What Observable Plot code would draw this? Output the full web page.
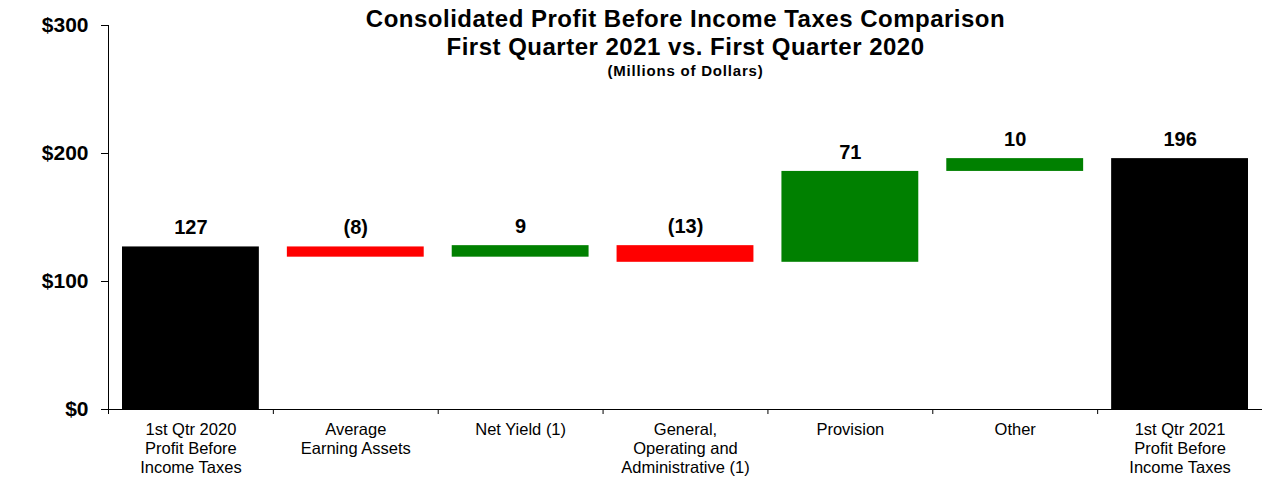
<!DOCTYPE html>
<html>
<head>
<meta charset="utf-8">
<script src="https://cdn.jsdelivr.net/npm/d3@7"></script>
<script src="https://cdn.jsdelivr.net/npm/@observablehq/plot@0.6"></script>
<style>
  html, body { margin: 0; padding: 0; background: #fff; }
  #chart svg { display: block; }
  .title-text text { letter-spacing: 0.5px; }
  .subtitle-text text { letter-spacing: 0.8px; }
</style>
</head>
<body>
<div id="chart"></div>
<script>
const categories = [
  "1st Qtr 2020\nProfit Before\nIncome Taxes",
  "Average\nEarning Assets",
  "Net Yield (1)",
  "General,\nOperating and\nAdministrative (1)",
  "Provision",
  "Other",
  "1st Qtr 2021\nProfit Before\nIncome Taxes"
];
const values = [127, -8, 9, -13, 71, 10, 196];
const valueLabels = ["127", "(8)", "9", "(13)", "71", "10", "196"];
const kinds = ["total", "delta", "delta", "delta", "delta", "delta", "total"];
const yTicks = [0, 100, 200, 300];
const titleLines = [
  "Consolidated Profit Before Income Taxes Comparison",
  "First Quarter 2021 vs. First Quarter 2020"
];
const subtitle = "(Millions of Dollars)";

let running = 0;
const rows = categories.map((c, i) => {
  let lo, hi;
  if (kinds[i] === "total") {
    lo = 0; hi = values[i]; running = values[i];
  } else {
    const start = running;
    running = start + values[i];
    lo = Math.min(start, running); hi = Math.max(start, running);
  }
  return {
    i, category: c, label: valueLabels[i], lo, hi,
    color: kinds[i] === "total" ? "#000000" : (values[i] < 0 ? "#ff0000" : "#008000")
  };
});

const font = "'Liberation Sans', Arial, Helvetica, sans-serif";

const chart = Plot.plot({
  width: 1262,
  height: 493,
  marginLeft: 108,
  marginRight: 0,
  marginTop: 25,
  marginBottom: 84,
  style: { fontFamily: font, background: "#fff", color: "#000", overflow: "visible" },
  x: { type: "linear", domain: [0, categories.length], axis: null },
  y: { domain: [0, 300], axis: null },
  marks: [
    Plot.rectY(rows, {
      x1: d => d.i, x2: d => d.i + 1, y1: "lo", y2: "hi",
      fill: "color", insetLeft: 14, insetRight: 14
    }),
    Plot.ruleX([0], { stroke: "#000", strokeWidth: 1 }),
    Plot.ruleY([0], { stroke: "#000", strokeWidth: 1 }),
    Plot.axisY({
      ticks: yTicks,
      tickFormat: d => "$" + d,
      tickSize: 7,
      tickPadding: 13,
      fontSize: 21,
      fontWeight: "bold",
      stroke: "#000",
      fill: "#000"
    }),
    Plot.axisX({
      ticks: d3.range(0, categories.length + 1),
      tickSize: 5,
      tickFormat: () => "",
      stroke: "#000"
    }),
    Plot.text(rows, {
      x: d => d.i + 0.5, y: 0, text: "category",
      lineAnchor: "top", dy: 12, fontSize: 16.5, lineHeight: 1.16, fill: "#000"
    }),
    Plot.text(rows, {
      x: d => d.i + 0.5, y: "hi", text: "label",
      lineAnchor: "bottom", dy: -12.5, fontSize: 20, fontWeight: "bold", fill: "#000"
    }),
    Plot.text([titleLines.join("\n")], {
      frameAnchor: "top", lineAnchor: "top", dy: -18.5, fontSize: 24,
      fontWeight: "bold", lineHeight: 1.17, fill: "#000", className: "title-text"
    }),
    Plot.text([subtitle], {
      frameAnchor: "top", lineAnchor: "top", dy: 39.5, fontSize: 15,
      fontWeight: "bold", fill: "#000", className: "subtitle-text"
    })
  ]
});

document.getElementById("chart").appendChild(chart);
</script>
</body>
</html>
